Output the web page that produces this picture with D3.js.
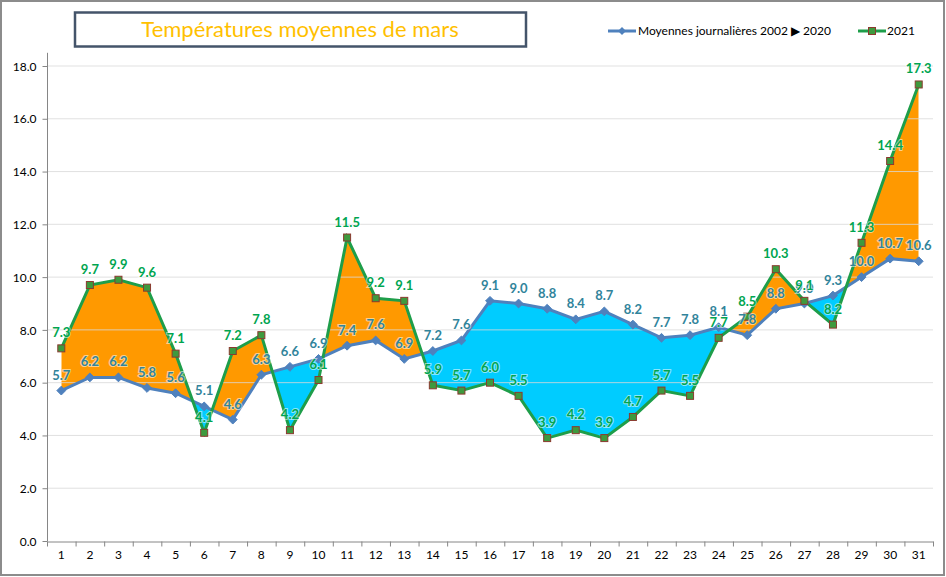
<!DOCTYPE html>
<html><head><meta charset="utf-8">
<script src="https://cdn.jsdelivr.net/npm/d3@7"></script>
<style>body{margin:0;background:#fff}svg{display:block}text{font-family:Lato,"Open Sans",sans-serif}</style>
</head><body><svg id="c" width="946" height="577"></svg>
<script>
const days = d3.range(1, 32).map(String);
const avgSeries = [5.7,6.2,6.2,5.8,5.6,5.1,4.6,6.3,6.6,6.9,7.4,7.6,6.9,7.2,7.6,9.1,9.0,8.8,8.4,8.7,8.2,7.7,7.8,8.1,7.8,8.8,9.0,9.3,10.0,10.7,10.6];
const y2021 = [7.3,9.7,9.9,9.6,7.1,4.1,7.2,7.8,4.2,6.1,11.5,9.2,9.1,5.9,5.7,6.0,5.5,3.9,4.2,3.9,4.7,5.7,5.5,7.7,8.5,10.3,9.1,8.2,11.3,14.4,17.3];
const yTicks = [0,2,4,6,8,10,12,14,16,18];
const titleText = "Températures moyennes de mars";
const legendLabels = ["Moyennes journalières 2002 \u25B6 2020", "2021"];

const svg = d3.select("#c");
const x = d3.scaleBand().domain(days).range([47, 933]);
const y = d3.scaleLinear().domain([0, 18]).range([541, 66]);
const cx = d => x(d) + x.bandwidth() / 2;

const data = days.map((d, i) => ({d, a: avgSeries[i], g: y2021[i]}));

// frame
svg.append("rect").attr("x",1).attr("y",1).attr("width",943).attr("height",574)
  .attr("fill","#fff").attr("stroke","#8c8c8c").attr("stroke-width",2);

// fills
const defs = svg.append("defs");
defs.append("clipPath").attr("id","belowG").append("path")
  .attr("d", d3.area().x(p=>cx(p.d)).y0(600).y1(p=>y(p.g))(data));
defs.append("clipPath").attr("id","aboveG").append("path")
  .attr("d", d3.area().x(p=>cx(p.d)).y0(0).y1(p=>y(p.g))(data));
svg.append("path").attr("clip-path","url(#belowG)").attr("fill","#FF9900")
  .attr("d", d3.area().x(p=>cx(p.d)).y0(0).y1(p=>y(p.a))(data));
svg.append("path").attr("clip-path","url(#aboveG)").attr("fill","#00CCFF")
  .attr("d", d3.area().x(p=>cx(p.d)).y0(600).y1(p=>y(p.a))(data));

// gridlines
svg.append("g").selectAll("line").data(yTicks.filter(t=>t>0)).join("line")
  .attr("x1",47).attr("x2",933).attr("y1",t=>y(t)).attr("y2",t=>y(t))
  .attr("stroke","#D9D9D9").attr("stroke-opacity",0.8).attr("stroke-width",1);

// y axis
const ya = svg.append("g").attr("transform","translate(47.5,0)")
  .call(d3.axisLeft(y).tickValues(yTicks).tickFormat(d3.format(".1f")).tickSizeOuter(0).tickSize(5));
ya.select(".domain").attr("d","M0,"+y(18.5)+"V"+y(0)).attr("stroke","#868686");
ya.selectAll(".tick line").attr("stroke","#868686");
ya.selectAll("text").attr("font-size",12).attr("fill","#000").attr("x",-11).attr("dy","0.35em");

// x axis
const xa = svg.append("g").attr("transform","translate(0,541.5)")
  .call(d3.axisBottom(x).tickSize(0).tickSizeOuter(0));
xa.select(".domain").attr("stroke","#868686");
xa.selectAll("text").attr("font-size",12).attr("fill","#000").attr("dy","0").attr("y",17);
xa.selectAll(".bnd").data(days).join("line").attr("class","bnd")
  .attr("x1",d=>x(d)+0.5).attr("x2",d=>x(d)+0.5).attr("y1",0).attr("y2",5).attr("stroke","#868686");
xa.append("line").attr("x1",933.5).attr("x2",933.5).attr("y1",0).attr("y2",5).attr("stroke","#868686");

// lines
const blueC = "#4F81BD", greenC = "#1E9E4A";
svg.append("path").attr("fill","none").attr("stroke",blueC).attr("stroke-width",3)
  .attr("d", d3.line().x(p=>cx(p.d)).y(p=>y(p.a))(data));
svg.append("path").attr("fill","none").attr("stroke",greenC).attr("stroke-width",3)
  .attr("d", d3.line().x(p=>cx(p.d)).y(p=>y(p.g))(data));

// markers
svg.append("g").selectAll("path").data(data).join("path")
  .attr("d", d3.symbol(d3.symbolDiamond2, 50))
  .attr("transform", p=>`translate(${cx(p.d)},${y(p.a)})`)
  .attr("fill",blueC).attr("stroke",blueC);
svg.append("g").selectAll("rect").data(data).join("rect")
  .attr("x",p=>cx(p.d)-3.5).attr("y",p=>y(p.g)-3.5).attr("width",7).attr("height",7)
  .attr("fill","#3E9A3E").attr("stroke","#8B3A2F").attr("stroke-width",1);

// labels
const lab = (key, color) => svg.append("g").selectAll("text").data(data).join("text")
  .attr("x",p=>cx(p.d)).attr("y",p=>y(p[key])-11).attr("text-anchor","middle")
  .attr("font-size",13).attr("font-weight","bold").attr("fill",color)
  .attr("stroke","#fff").attr("stroke-opacity",0.55).attr("stroke-width",2).attr("paint-order","stroke")
  .text(p=>d3.format(".1f")(p[key]));
lab("a","#31849B");
lab("g","#00A550");

// title
svg.append("rect").attr("x",75).attr("y",12.5).attr("width",451).attr("height",34)
  .attr("fill","#fff").attr("stroke","#44546A").attr("stroke-width",2.5);
svg.append("text").attr("x",300).attr("y",37).attr("text-anchor","middle")
  .attr("font-size",22).attr("fill","#FFC000").text(titleText);

// legend
const lg = svg.append("g");
lg.append("line").attr("x1",608).attr("x2",636).attr("y1",31).attr("y2",31).attr("stroke",blueC).attr("stroke-width",3);
lg.append("path").attr("d",d3.symbol(d3.symbolDiamond2,40)).attr("transform","translate(622,31)").attr("fill",blueC);
lg.append("text").attr("x",638).attr("y",35).attr("font-size",12).attr("fill","#000").text(legendLabels[0]);
lg.append("line").attr("x1",858).attr("x2",886).attr("y1",31).attr("y2",31).attr("stroke",greenC).attr("stroke-width",3);
lg.append("rect").attr("x",868.5).attr("y",27.5).attr("width",7).attr("height",7).attr("fill","#3E9A3E").attr("stroke","#8B3A2F");
lg.append("text").attr("x",887).attr("y",35).attr("font-size",12).attr("fill","#000").text(legendLabels[1]);
</script></body></html>
